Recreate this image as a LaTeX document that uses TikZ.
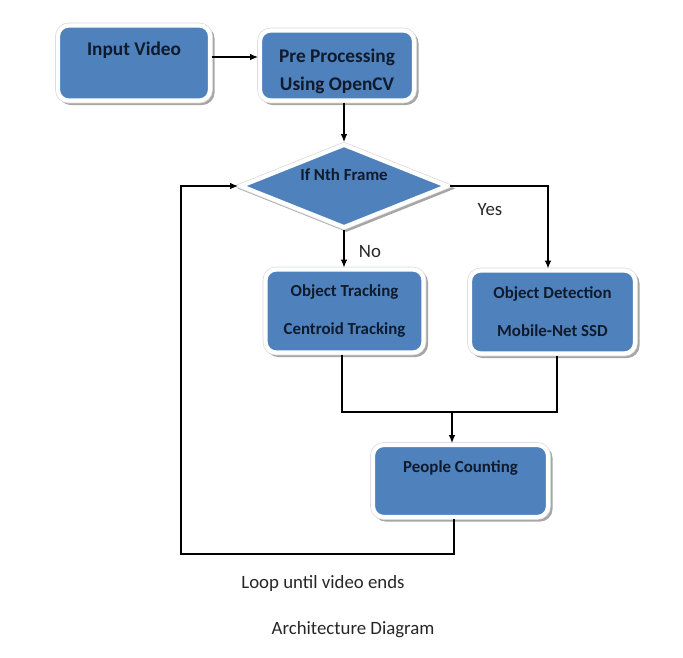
\documentclass[tikz,border=0pt]{standalone}
\usepackage{fontspec}
\setmainfont{Carlito}
\usetikzlibrary{shapes.geometric, arrows.meta}
\definecolor{boxblue}{HTML}{4F81BD}
\definecolor{boxtext}{HTML}{0F1B2D}

\begin{document}
\begin{tikzpicture}[x=0.02cm, y=-0.02cm,
    block/.style={rectangle, fill=boxblue, draw=white, line width=2.4pt, rounded corners=6pt, text=boxtext, align=center, inner sep=0pt, font=\bfseries\fontsize{9.6}{11}\selectfont, preaction={draw=black!35, line width=2.4pt, transform canvas={xshift=1.4pt, yshift=-1.4pt}}, preaction={draw=black!15, line width=3.2pt}},
    bigblock/.style={block, font=\bfseries\fontsize{11}{13}\selectfont},
    decision/.style={diamond, aspect=2.5, fill=boxblue, draw=white, line width=2.4pt, text=boxtext, inner sep=0pt, font=\bfseries\fontsize{9.6}{11}\selectfont, preaction={draw=black!35, line width=2.4pt, transform canvas={xshift=1.4pt, yshift=-1.4pt}}, preaction={draw=black!15, line width=3.2pt}},
    note/.style={font=\fontsize{10.7}{13}\selectfont, text=black!85},
    arrow/.style={-{Latex[length=4.5pt, width=3.8pt]}, line width=0.6pt}
]
\useasboundingbox (0,0) rectangle (683,657);

% Steps
\node[bigblock, minimum width=3.04cm, minimum height=1.5cm] (invid) at (134,63) {\raisebox{0.15cm}[0pt][0pt]{Input Video}};
\node[bigblock, minimum width=3.08cm, minimum height=1.4cm] (pre) at (337,65.5) {\mbox{}\\[1pt]Pre Processing\\[3pt]Using OpenCV};
\node[decision, minimum width=4.16cm, minimum height=1.68cm] (dec) at (344,186) {\raisebox{0.11cm}[0pt][0pt]{If Nth Frame}};
\node[block, minimum width=3.16cm, minimum height=1.66cm] (track) at (344.5,311) {Object Tracking\\[10.5pt]Centroid Tracking};
\node[block, minimum width=3.3cm, minimum height=1.66cm] (detect) at (552.5,312) {Object Detection\\[10.5pt]Mobile-Net SSD};
\node[block, minimum width=3.5cm, minimum height=1.44cm] (count) at (460.5,481) {\raisebox{0.17cm}[0pt][0pt]{People Counting}};

% Bends
\coordinate (join) at (452,412);
\coordinate (loopcorner) at (181,554);

% Arrows
\draw[arrow] ([yshift=0.12cm]invid.east) -- ([yshift=0.12cm]invid.east -| pre.west);
\draw[arrow] (pre.south -| dec.north) -- (dec.north);
\draw[arrow] (dec.south) -- (dec.south |- track.north);
\draw[arrow] (dec.east) -| ([xshift=-0.09cm]detect.north);
\draw[line width=0.6pt] ([xshift=-0.05cm]track.south) |- (join);
\draw[line width=0.6pt] ([xshift=0.09cm]detect.south) |- (join);
\draw[arrow] (join) -- (join |- count.north);
\draw[arrow] ([xshift=-0.13cm]count.south) |- (loopcorner) |- (dec.west);

% Labels
\node[note] (no) at (370,252) {No};
\node[note] (yes) at (490,210) {Yes};
\node[note] (loopnote) at (323,583) {Loop until video ends};
\node[note] (caption) at (353,630) {Architecture Diagram};

\end{tikzpicture}
\end{document}
